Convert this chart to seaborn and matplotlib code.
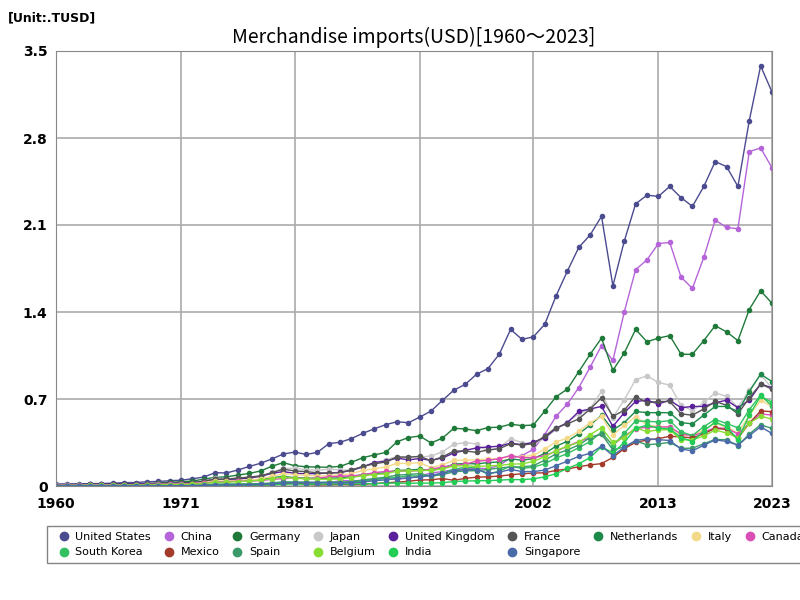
import numpy as np
import pandas as pd
import matplotlib
matplotlib.use("Agg")
import matplotlib.pyplot as plt
import seaborn as sns

years = list(range(1960, 2024))

# trillions USD
us = [.016,.016,.018,.019,.020,.023,.027,.028,.034,.037,.042,.047,.058,.072,.107,.105,.129,.157,.183,.218,
      .257,.273,.254,.270,.341,.352,.382,.424,.460,.493,.517,.509,.554,.603,.689,.771,.817,.899,.944,1.06,
      1.26,1.18,1.20,1.30,1.53,1.73,1.92,2.02,2.17,1.61,1.97,2.27,2.34,2.33,2.41,2.32,2.25,2.41,2.61,2.57,
      2.41,2.94,3.38,3.17]
china = [.002,.001,.001,.001,.002,.002,.002,.002,.002,.002,.002,.002,.003,.005,.008,.007,.007,.007,.011,.016,
         .020,.022,.019,.021,.027,.042,.043,.043,.055,.059,.053,.064,.081,.104,.116,.132,.139,.142,.140,.166,
         .225,.244,.295,.413,.561,.660,.792,.956,1.13,1.01,1.40,1.74,1.82,1.95,1.96,1.68,1.59,1.84,2.14,2.08,
         2.07,2.69,2.72,2.56]
germany = [.010,.011,.012,.013,.015,.017,.018,.017,.020,.024,.030,.034,.040,.055,.069,.074,.088,.101,.121,.159,
           .188,.163,.155,.152,.151,.158,.191,.228,.250,.270,.355,.390,.402,.346,.385,.464,.459,.445,.470,.473,
           .497,.486,.490,.602,.718,.780,.920,1.06,1.19,.930,1.07,1.26,1.16,1.19,1.21,1.06,1.06,1.17,1.29,1.24,
           1.17,1.42,1.57,1.47]
japan = [.0045,.0058,.0056,.0067,.0079,.0082,.0095,.0117,.013,.015,.019,.020,.023,.038,.062,.058,.065,.071,.080,.110,
         .141,.143,.132,.126,.136,.130,.127,.150,.187,.210,.235,.236,.233,.241,.275,.336,.349,.338,.280,.311,
         .380,.349,.337,.383,.455,.516,.580,.622,.762,.551,.694,.855,.886,.833,.812,.648,.607,.672,.749,.721,
         .635,.769,.897,.786]
uk = [.012,.012,.012,.013,.015,.016,.016,.017,.019,.020,.022,.024,.028,.039,.054,.053,.056,.064,.078,.102,
      .116,.102,.099,.100,.105,.109,.126,.154,.189,.199,.225,.210,.221,.206,.226,.265,.287,.306,.314,.320,
      .345,.332,.352,.390,.463,.510,.600,.620,.640,.480,.590,.680,.690,.660,.690,.630,.640,.640,.670,.690,
      .630,.690,.820,.790]
france = [.006,.007,.008,.009,.010,.011,.012,.012,.014,.017,.019,.021,.027,.037,.053,.054,.064,.071,.082,.107,
          .135,.121,.116,.106,.104,.108,.129,.158,.178,.193,.234,.231,.239,.203,.234,.281,.282,.271,.290,.300,
          .340,.330,.340,.400,.470,.500,.540,.620,.710,.560,.610,.720,.670,.680,.680,.580,.570,.620,.680,.650,
          .580,.710,.820,.780]
netherlands = [.005,.005,.006,.006,.007,.008,.008,.009,.010,.011,.013,.015,.017,.023,.033,.035,.040,.045,.053,.067,
               .077,.067,.063,.062,.062,.066,.076,.091,.100,.105,.126,.127,.135,.125,.142,.176,.181,.178,.188,.194,
               .218,.208,.220,.262,.320,.360,.420,.490,.570,.450,.510,.600,.590,.590,.590,.510,.500,.570,.640,.640,
               .600,.760,.900,.840]
italy = [.005,.005,.006,.007,.007,.007,.008,.009,.010,.012,.015,.016,.019,.028,.041,.038,.044,.048,.057,.078,
         .100,.091,.086,.080,.084,.088,.100,.125,.139,.153,.182,.182,.188,.148,.169,.206,.208,.210,.218,.220,
         .238,.236,.247,.297,.355,.385,.440,.510,.560,.410,.487,.558,.490,.479,.472,.410,.406,.452,.503,.475,
         .426,.567,.689,.640]
canada = [.006,.006,.006,.007,.008,.009,.010,.011,.012,.014,.014,.016,.019,.024,.032,.035,.038,.040,.044,.053,
          .060,.068,.057,.063,.074,.079,.082,.089,.108,.117,.120,.120,.124,.135,.152,.168,.175,.200,.206,.220,
          .245,.228,.228,.244,.280,.320,.358,.389,.418,.330,.402,.462,.474,.474,.476,.419,.404,.433,.469,.463,
          .420,.505,.581,.570]
skorea = [.0003,.0003,.0004,.0006,.0004,.0005,.0007,.0010,.0015,.0018,.002,.002,.003,.004,.007,.007,.009,.011,.015,.020,
          .022,.026,.024,.026,.031,.031,.032,.041,.052,.062,.070,.081,.082,.084,.102,.135,.150,.145,.093,.120,
          .160,.141,.152,.179,.225,.261,.309,.357,.435,.323,.425,.524,.520,.516,.526,.436,.406,.478,.535,.503,
          .468,.615,.731,.642]
mexico = [.001,.001,.001,.001,.002,.002,.002,.002,.002,.002,.002,.002,.003,.004,.006,.007,.006,.006,.008,.012,
          .019,.024,.015,.009,.011,.013,.012,.013,.020,.025,.031,.038,.048,.050,.060,.046,.061,.071,.074,.080,
          .090,.099,.103,.107,.125,.137,.155,.170,.180,.230,.301,.351,.370,.381,.400,.395,.387,.420,.464,.455,
          .383,.505,.604,.598]
spain = [.001,.001,.002,.002,.002,.003,.004,.004,.004,.005,.005,.005,.007,.010,.015,.016,.017,.018,.019,.025,
         .034,.032,.031,.029,.028,.030,.035,.049,.060,.071,.087,.093,.100,.079,.092,.113,.122,.123,.133,.145,
         .153,.154,.163,.208,.258,.290,.330,.390,.418,.290,.315,.362,.332,.339,.351,.303,.304,.340,.375,.372,
         .325,.418,.493,.463]
belgium = [.004,.004,.004,.005,.005,.006,.007,.007,.008,.009,.011,.012,.015,.020,.030,.031,.035,.040,.047,.060,
           .071,.062,.058,.054,.055,.056,.068,.083,.092,.098,.120,.121,.125,.125,.138,.160,.164,.157,.162,.165,
           .176,.178,.198,.235,.285,.320,.351,.413,.470,.351,.390,.467,.439,.451,.453,.371,.372,.402,.450,.427,
           .388,.507,.560,.540]
india = [.002,.002,.002,.002,.002,.003,.003,.003,.003,.002,.002,.002,.002,.003,.005,.006,.006,.007,.008,.010,
         .015,.016,.015,.015,.016,.017,.016,.018,.020,.022,.024,.021,.024,.023,.027,.035,.040,.042,.043,.047,
         .052,.051,.058,.073,.099,.142,.178,.229,.316,.266,.350,.464,.489,.465,.459,.390,.357,.444,.514,.478,
         .371,.570,.723,.672]
singapore = [.001,.001,.001,.001,.001,.001,.001,.001,.001,.001,.002,.003,.003,.005,.008,.008,.009,.010,.013,.017,
             .024,.028,.028,.028,.028,.026,.025,.032,.043,.049,.060,.066,.072,.085,.102,.124,.131,.132,.104,.111,
             .134,.116,.116,.128,.164,.200,.238,.263,.320,.245,.311,.366,.380,.373,.366,.297,.283,.328,.371,.359,
             .329,.406,.476,.423]

series = {
    "United States": (us, "#4b4b8f"), "China": (china, "#b565d9"), "Germany": (germany, "#1f7a3a"),
    "Japan": (japan, "#c8c8c8"), "United Kingdom": (uk, "#5a1f9a"), "France": (france, "#555555"),
    "Netherlands": (netherlands, "#1e8a4a"), "Italy": (italy, "#f5d98b"), "Canada": (canada, "#d94fb5"),
    "South Korea": (skorea, "#33c060"), "Mexico": (mexico, "#a33a2a"), "Spain": (spain, "#3a9a6a"),
    "Belgium": (belgium, "#88dd33"), "India": (india, "#22cc55"), "Singapore": (singapore, "#4a6aa8"),
}

df = pd.DataFrame([(y, name, v) for name, (vals, c) in series.items() for y, v in zip(years, vals)],
                  columns=["year", "country", "value"])
palette = {name: c for name, (vals, c) in series.items()}

fig, ax = plt.subplots(figsize=(8, 6), dpi=100)
sns.lineplot(data=df, x="year", y="value", hue="country", palette=palette, marker="o",
             markersize=4, markeredgewidth=0, linewidth=1, ax=ax, legend=False)

ax.set_xlim(1960, 2023)
ax.set_ylim(0, 3.5)
ax.set_xticks([1960, 1971, 1981, 1992, 2002, 2013, 2023])
ax.set_yticks([0, 0.7, 1.4, 2.1, 2.8, 3.5])
ax.set_yticklabels(["0", "0.7", "1.4", "2.1", "2.8", "3.5"])
ax.tick_params(labelsize=10, length=0)
ax.tick_params(axis="x", pad=8)
ax.tick_params(axis="y", pad=6)
for lab in ax.get_xticklabels() + ax.get_yticklabels():
    lab.set_fontweight("bold")
ax.grid(True, color="#aaaaaa", linewidth=1.2)
for s in ax.spines.values():
    s.set_color("#888888")
ax.set_xlabel("")
ax.set_ylabel("")
ax.set_title("Merchandise imports(USD)[1960～2023]", fontsize=14, fontfamily="Noto Sans CJK JP")
fig.text(0.01, 0.965, "[Unit:.TUSD]", fontsize=9, fontweight="bold")

# row-major legend order (9 on first row, 6 on second)
names = list(palette.keys())
row1, row2 = names[:9], names[9:]
order = []
for i in range(9):
    order.append(row1[i])
    if i < len(row2):
        order.append(row2[i])
handles = [plt.Line2D([], [], marker="o", linestyle="", color=palette[n], markersize=6) for n in order]
ax.legend(handles, order, loc="upper center", bbox_to_anchor=(0.52, -0.08), ncol=9,
          frameon=True, fontsize=8, handletextpad=0.05, columnspacing=0.6, edgecolor="#666666",
          fancybox=False, borderpad=0.5)

plt.subplots_adjust(left=0.07, right=0.965, top=0.915, bottom=0.19)
plt.savefig("out.png")
